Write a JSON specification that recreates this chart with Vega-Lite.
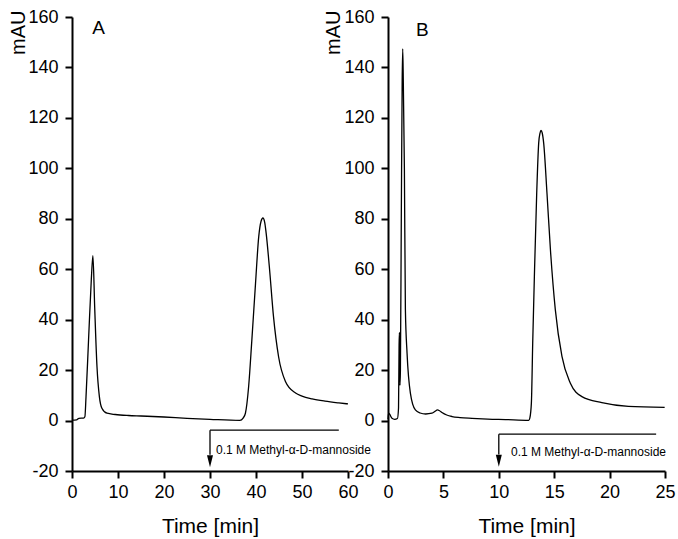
{
  "$schema": "https://vega.github.io/schema/vega-lite/v6.json",
  "background": "white",
  "padding": {"left": 8, "top": 8, "right": 2, "bottom": 2},
  "spacing": 40,
  "bounds": "flush",
  "config": {
    "font": "Liberation Sans",
    "view": {"stroke": null},
    "axis": {
      "domain": true, "ticks": true,
      "domainColor": "black", "domainWidth": 2, "tickColor": "black", "tickWidth": 2,
      "labelColor": "black", "labelFontSize": 18, "labelFont": "Liberation Sans", "labelFlush": false, "labelOverlap": false,
      "titleColor": "black", "titleFont": "Liberation Sans", "titleFontWeight": "normal", "grid": false
    }
  },
  "datasets": {
    "A": [
      {"t": 0, "mAU": 0.2}, {"t": 1, "mAU": 0.3}, {"t": 1.5, "mAU": 0.9}, {"t": 2.5, "mAU": 1.0}, {"t": 2.8, "mAU": 1.5},
      {"t": 3.05, "mAU": 9.5}, {"t": 3.6, "mAU": 32}, {"t": 4.2, "mAU": 56}, {"t": 4.55, "mAU": 65.4}, {"t": 4.93, "mAU": 45},
      {"t": 5.43, "mAU": 21.4}, {"t": 5.95, "mAU": 9.5}, {"t": 6.5, "mAU": 4.9}, {"t": 7.6, "mAU": 2.9}, {"t": 9.4, "mAU": 2.4},
      {"t": 12.3, "mAU": 2.0}, {"t": 15, "mAU": 1.8}, {"t": 20, "mAU": 1.4}, {"t": 25, "mAU": 0.9}, {"t": 30, "mAU": 0.5},
      {"t": 36.5, "mAU": 0.1}, {"t": 37.2, "mAU": 1.0}, {"t": 37.7, "mAU": 2.9}, {"t": 38.4, "mAU": 13.5}, {"t": 39.1, "mAU": 32},
      {"t": 39.9, "mAU": 54.5}, {"t": 40.6, "mAU": 73}, {"t": 41.1, "mAU": 79}, {"t": 41.5, "mAU": 80.3}, {"t": 41.9, "mAU": 78.5},
      {"t": 42.2, "mAU": 74.4}, {"t": 42.9, "mAU": 61}, {"t": 43.8, "mAU": 41.3}, {"t": 44.9, "mAU": 25.4}, {"t": 46.4, "mAU": 15.5},
      {"t": 48.6, "mAU": 10.9}, {"t": 50, "mAU": 9.7}, {"t": 52.2, "mAU": 8.6}, {"t": 55, "mAU": 7.7}, {"t": 58, "mAU": 7.0}, {"t": 60, "mAU": 6.6}
    ],
    "B": [
      {"t": 0, "mAU": 0.5}, {"t": 0.05, "mAU": 2.9}, {"t": 0.15, "mAU": 2.5}, {"t": 0.36, "mAU": 0.9}, {"t": 0.6, "mAU": 0.5},
      {"t": 0.85, "mAU": 0.8}, {"t": 0.95, "mAU": 5}, {"t": 1.0, "mAU": 30}, {"t": 1.03, "mAU": 35}, {"t": 1.06, "mAU": 25},
      {"t": 1.08, "mAU": 14}, {"t": 1.12, "mAU": 20}, {"t": 1.2, "mAU": 80}, {"t": 1.28, "mAU": 135}, {"t": 1.33, "mAU": 147.4},
      {"t": 1.38, "mAU": 135}, {"t": 1.48, "mAU": 99.5}, {"t": 1.57, "mAU": 44}, {"t": 1.72, "mAU": 26.7}, {"t": 2.02, "mAU": 10.9},
      {"t": 2.47, "mAU": 4.2}, {"t": 2.9, "mAU": 3.0}, {"t": 3.4, "mAU": 2.6}, {"t": 3.97, "mAU": 2.9}, {"t": 4.3, "mAU": 3.8},
      {"t": 4.45, "mAU": 4.2}, {"t": 4.65, "mAU": 3.9}, {"t": 4.87, "mAU": 3.2}, {"t": 5.3, "mAU": 2.2}, {"t": 5.78, "mAU": 1.6},
      {"t": 6.5, "mAU": 1.2}, {"t": 7.58, "mAU": 0.9}, {"t": 9, "mAU": 0.6}, {"t": 10.6, "mAU": 0.4}, {"t": 12.7, "mAU": 0.1},
      {"t": 12.8, "mAU": 1}, {"t": 12.94, "mAU": 6.9}, {"t": 13.06, "mAU": 30.7}, {"t": 13.21, "mAU": 57}, {"t": 13.42, "mAU": 90},
      {"t": 13.6, "mAU": 110}, {"t": 13.72, "mAU": 114}, {"t": 13.81, "mAU": 115}, {"t": 13.92, "mAU": 114}, {"t": 14.05, "mAU": 110},
      {"t": 14.35, "mAU": 90}, {"t": 14.66, "mAU": 67.7}, {"t": 15.1, "mAU": 44}, {"t": 15.7, "mAU": 25.4}, {"t": 16.46, "mAU": 14.8},
      {"t": 17.5, "mAU": 9.5}, {"t": 19.3, "mAU": 7.1}, {"t": 21.7, "mAU": 5.6}, {"t": 24.97, "mAU": 5.2}
    ],
    "one": [{}]
  },
  "hconcat": [
    {
      "width": 276, "height": 454,
      "layer": [
        {
          "data": {"name": "A"},
          "mark": {"type": "line", "color": "black", "strokeWidth": 1.3, "interpolate": "monotone"},
          "encoding": {
            "x": {"field": "t", "type": "quantitative", "scale": {"domain": [0, 60], "nice": false, "zero": false},
              "axis": {"orient": "bottom",
                "values": [0, 5, 10, 15, 20, 25, 30, 35, 40, 45, 50, 55, 60],
                "labelExpr": "datum.value % 10 === 0 ? '' + datum.value : ''",
                "tickSize": {"condition": {"test": "datum.value % 10 === 0", "value": 7}, "value": 4},
                "title": "Time [min]", "titleFontSize": 21, "titlePadding": 14, "labelPadding": 5}},
            "y": {"field": "mAU", "type": "quantitative", "scale": {"domain": [-20, 160], "nice": false, "zero": false},
              "axis": {"orient": "left",
                "values": [-20, -10, 0, 10, 20, 30, 40, 50, 60, 70, 80, 90, 100, 110, 120, 130, 140, 150, 160],
                "labelExpr": "datum.value % 20 === 0 ? '' + datum.value : ''",
                "tickSize": {"condition": {"test": "datum.value % 20 === 0", "value": 7}, "value": 4},
                "title": "mAU", "titleFontSize": 20, "titleX": -48, "titleY": -7, "titleAlign": "right", "titleAngle": -90, "titleBaseline": "alphabetic", "labelPadding": 7}}
          }
        },
        {
          "data": {"name": "one"},
          "mark": {"type": "rule", "color": "black", "strokeWidth": 1.3},
          "encoding": {"x": {"datum": 30, "type": "quantitative"}, "x2": {"datum": 58}, "y": {"datum": -3.8, "type": "quantitative"}}
        },
        {
          "data": {"name": "one"},
          "mark": {"type": "rule", "color": "black", "strokeWidth": 1.3},
          "encoding": {"x": {"datum": 30, "type": "quantitative"}, "y": {"datum": -3.8, "type": "quantitative"}, "y2": {"datum": -13.6}}
        },
        {
          "data": {"name": "one"},
          "mark": {"type": "point", "shape": "M-0.5,-1L0.5,-1L0,1Z", "filled": true, "color": "black", "opacity": 1, "size": 144},
          "encoding": {"x": {"datum": 30, "type": "quantitative"}, "y": {"datum": -16.1, "type": "quantitative"}}
        },
        {
          "data": {"name": "one"},
          "mark": {"type": "text", "align": "left", "baseline": "middle", "fontSize": 12, "color": "black"},
          "encoding": {"x": {"datum": 31.3, "type": "quantitative"}, "y": {"datum": -11.6, "type": "quantitative"}, "text": {"value": "0.1 M Methyl-α-D-mannoside"}}
        },
        {
          "data": {"name": "one"},
          "mark": {"type": "text", "align": "center", "baseline": "middle", "fontSize": 19, "color": "black"},
          "encoding": {"x": {"datum": 5.8, "type": "quantitative"}, "y": {"datum": 155.5, "type": "quantitative"}, "text": {"value": "A"}}
        }
      ]
    },
    {
      "width": 277, "height": 454,
      "layer": [
        {
          "data": {"name": "B"},
          "mark": {"type": "line", "color": "black", "strokeWidth": 1.3, "interpolate": "monotone"},
          "encoding": {
            "x": {"field": "t", "type": "quantitative", "scale": {"domain": [0, 25], "nice": false, "zero": false},
              "axis": {"orient": "bottom",
                "values": [0, 2.5, 5, 7.5, 10, 12.5, 15, 17.5, 20, 22.5, 25],
                "labelExpr": "datum.value % 5 === 0 ? '' + datum.value : ''",
                "tickSize": {"condition": {"test": "datum.value % 5 === 0", "value": 7}, "value": 4},
                "title": "Time [min]", "titleFontSize": 21, "titlePadding": 14, "labelPadding": 5}},
            "y": {"field": "mAU", "type": "quantitative", "scale": {"domain": [-20, 160], "nice": false, "zero": false},
              "axis": {"orient": "left",
                "values": [-20, -10, 0, 10, 20, 30, 40, 50, 60, 70, 80, 90, 100, 110, 120, 130, 140, 150, 160],
                "labelExpr": "datum.value % 20 === 0 ? '' + datum.value : ''",
                "tickSize": {"condition": {"test": "datum.value % 20 === 0", "value": 7}, "value": 4},
                "title": "mAU", "titleFontSize": 20, "titleX": -49, "titleY": -7, "titleAlign": "right", "titleAngle": -90, "titleBaseline": "alphabetic", "labelPadding": 7}}
          }
        },
        {
          "data": {"name": "one"},
          "mark": {"type": "rule", "color": "black", "strokeWidth": 1.3},
          "encoding": {"x": {"datum": 10, "type": "quantitative"}, "x2": {"datum": 24.2}, "y": {"datum": -5.4, "type": "quantitative"}}
        },
        {
          "data": {"name": "one"},
          "mark": {"type": "rule", "color": "black", "strokeWidth": 1.3},
          "encoding": {"x": {"datum": 10, "type": "quantitative"}, "y": {"datum": -5.4, "type": "quantitative"}, "y2": {"datum": -13.5}}
        },
        {
          "data": {"name": "one"},
          "mark": {"type": "point", "shape": "M-0.5,-1L0.5,-1L0,1Z", "filled": true, "color": "black", "opacity": 1, "size": 144},
          "encoding": {"x": {"datum": 10, "type": "quantitative"}, "y": {"datum": -15.9, "type": "quantitative"}}
        },
        {
          "data": {"name": "one"},
          "mark": {"type": "text", "align": "left", "baseline": "middle", "fontSize": 12, "color": "black"},
          "encoding": {"x": {"datum": 11.1, "type": "quantitative"}, "y": {"datum": -12.3, "type": "quantitative"}, "text": {"value": "0.1 M Methyl-α-D-mannoside"}}
        },
        {
          "data": {"name": "one"},
          "mark": {"type": "text", "align": "center", "baseline": "middle", "fontSize": 19, "color": "black"},
          "encoding": {"x": {"datum": 3.1, "type": "quantitative"}, "y": {"datum": 155, "type": "quantitative"}, "text": {"value": "B"}}
        }
      ]
    }
  ]
}
